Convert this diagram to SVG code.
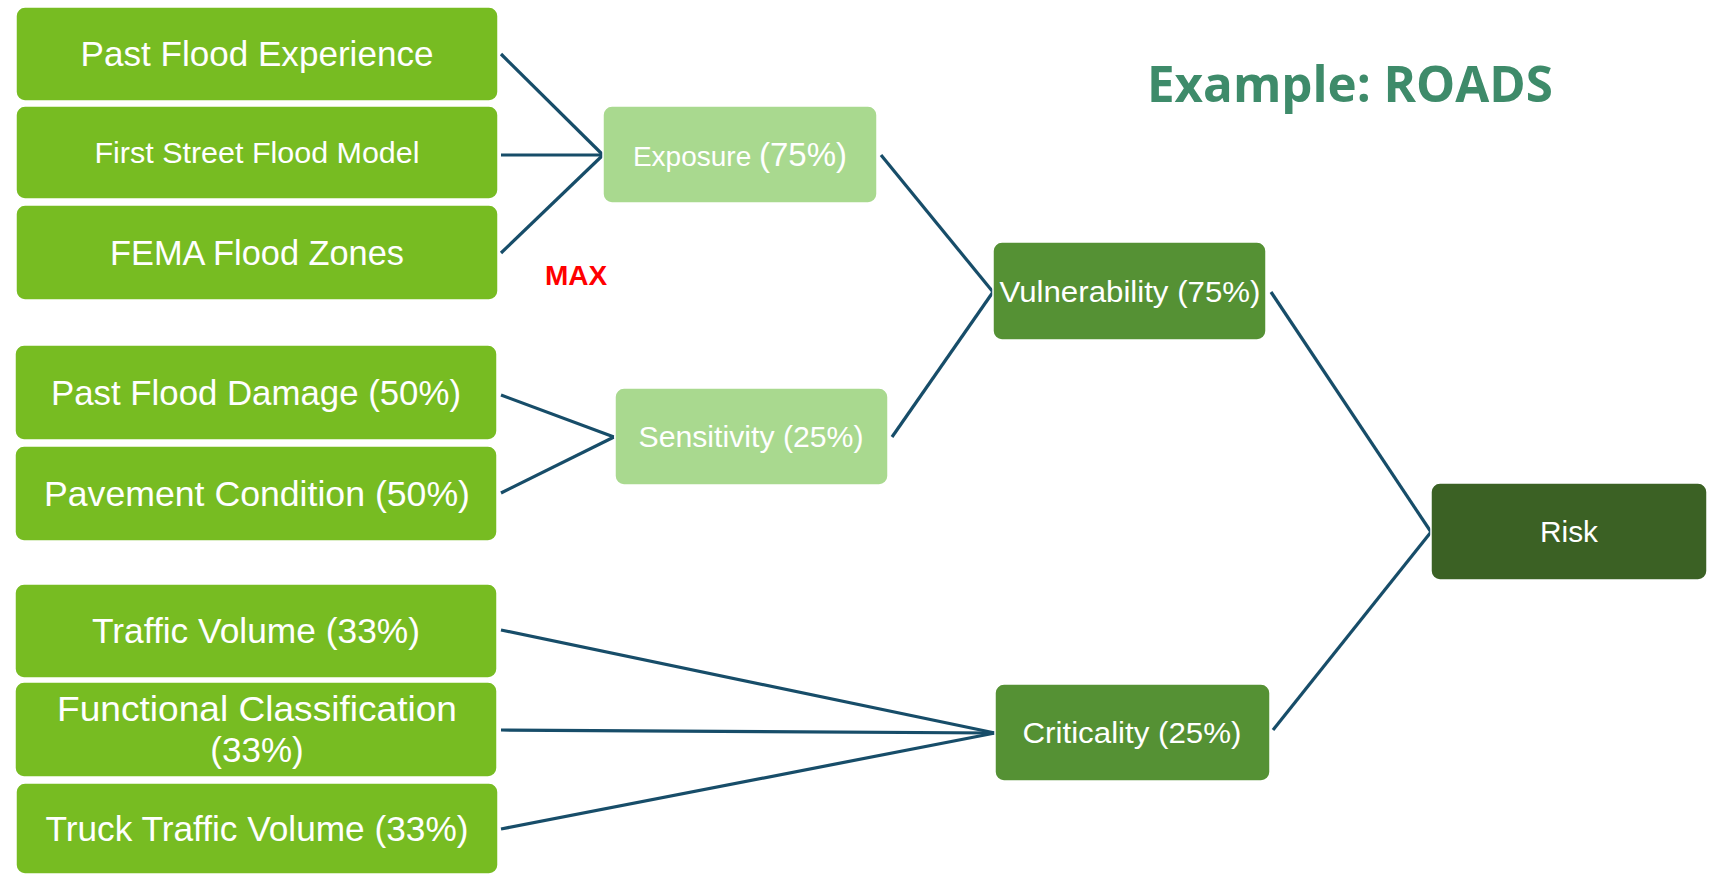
<svg xmlns="http://www.w3.org/2000/svg" width="1709" height="875" viewBox="0 0 1709 875">
<style>
.in{fill:#77bc22}
.mid{fill:#a9d98f}
.agg{fill:#559134}
.risk{fill:#3b6124}
.box{stroke:#ffffff;stroke-width:1.5}
text{font-family:"Liberation Sans",Arial,sans-serif;fill:#ffffff;text-anchor:middle}
.t35{font-size:35px}
.t30{font-size:30px}
.conn line{stroke:#174d69;stroke-width:3.2;stroke-linecap:butt}
</style>
<rect width="1709" height="875" fill="#ffffff"/>
<g class="conn" id="connectors">
<line x1="501" y1="54" x2="603" y2="155"/>
<line x1="501" y1="155" x2="603" y2="155"/>
<line x1="501" y1="253" x2="603" y2="155"/>
<line x1="501" y1="395" x2="614" y2="437"/>
<line x1="501" y1="493" x2="614" y2="437"/>
<line x1="881" y1="155" x2="993" y2="292"/>
<line x1="892" y1="437" x2="993" y2="292"/>
<line x1="1271" y1="292" x2="1431" y2="532"/>
<line x1="1273" y1="730" x2="1431" y2="532"/>
<line x1="501" y1="630" x2="995" y2="733"/>
<line x1="501" y1="730" x2="995" y2="733"/>
<line x1="501" y1="829" x2="995" y2="733"/>
</g>
<g id="n-past-flood-exp"><rect class="in box" x="16" y="7" width="482" height="94" rx="9"/><text class="t35" x="257" y="66" textLength="353" lengthAdjust="spacingAndGlyphs">Past Flood Experience</text></g>
<g id="n-first-street"><rect class="in box" x="16" y="106" width="482" height="93" rx="9"/><text class="t30" x="257" y="163" textLength="325" lengthAdjust="spacingAndGlyphs">First Street Flood Model</text></g>
<g id="n-fema"><rect class="in box" x="16" y="205" width="482" height="95" rx="9"/><text class="t35" x="257" y="265" textLength="294" lengthAdjust="spacingAndGlyphs">FEMA Flood Zones</text></g>
<g id="n-exposure"><rect class="mid box" x="603" y="106" width="274" height="97" rx="9"/><text x="740" y="166"><tspan font-size="28">Exposure </tspan><tspan font-size="33">(75%)</tspan></text></g>
<text id="max" x="545" y="285" style="font-size:28px;font-weight:bold;fill:#ff0000;text-anchor:start">MAX</text>
<g id="n-past-damage"><rect class="in box" x="15" y="345" width="482" height="95" rx="9"/><text class="t35" x="256" y="405" textLength="410" lengthAdjust="spacingAndGlyphs">Past Flood Damage (50%)</text></g>
<g id="n-pavement"><rect class="in box" x="15" y="446" width="482" height="95" rx="9"/><text class="t35" x="257" y="506" textLength="426" lengthAdjust="spacingAndGlyphs">Pavement Condition (50%)</text></g>
<g id="n-sensitivity"><rect class="mid box" x="615" y="388" width="273" height="97" rx="9"/><text x="751" y="447" font-size="29" textLength="225" lengthAdjust="spacingAndGlyphs">Sensitivity (25%)</text></g>
<g id="n-vulnerability"><rect class="agg box" x="993" y="242" width="273" height="98" rx="9"/><text x="1130" y="302" font-size="30" textLength="261" lengthAdjust="spacingAndGlyphs">Vulnerability (75%)</text></g>
<g id="n-risk"><rect class="risk box" x="1431" y="483" width="276" height="97" rx="9"/><text x="1569" y="542" font-size="30" textLength="58" lengthAdjust="spacingAndGlyphs">Risk</text></g>
<g id="n-criticality"><rect class="agg box" x="995" y="684" width="275" height="97" rx="9"/><text x="1132" y="743" font-size="30" textLength="219" lengthAdjust="spacingAndGlyphs">Criticality (25%)</text></g>
<g id="n-traffic"><rect class="in box" x="15" y="584" width="482" height="94" rx="9"/><text class="t35" x="256" y="643" textLength="328" lengthAdjust="spacingAndGlyphs">Traffic Volume (33%)</text></g>
<g id="n-functional"><rect class="in box" x="15" y="682" width="482" height="95" rx="9"/><text class="t35" x="257" y="721" textLength="400" lengthAdjust="spacingAndGlyphs">Functional Classification</text><text class="t35" x="257" y="762">(33%)</text></g>
<g id="n-truck"><rect class="in box" x="16" y="783" width="482" height="91" rx="9"/><text class="t35" x="257" y="841" textLength="423" lengthAdjust="spacingAndGlyphs">Truck Traffic Volume (33%)</text></g>
<text id="title" x="1350" y="102" style="font-family:'Open Sans','Liberation Sans',sans-serif;font-size:50px;font-weight:bold;fill:#3e8b6a" textLength="406" lengthAdjust="spacingAndGlyphs">Example: ROADS</text>
</svg>
